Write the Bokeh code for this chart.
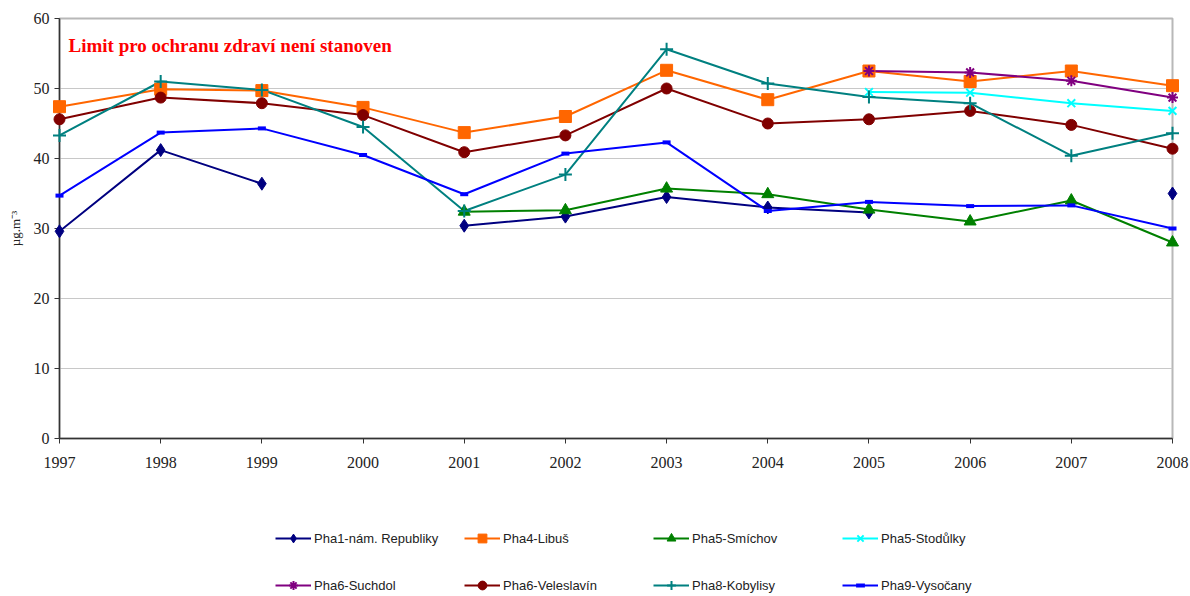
from bokeh.plotting import figure
from bokeh.layouts import column
from bokeh.models import Range1d, FixedTicker, Legend, LegendItem, Label
from bokeh.embed import file_html
from bokeh.resources import INLINE

nan = float("nan")

years = [1997, 1998, 1999, 2000, 2001, 2002, 2003, 2004, 2005, 2006, 2007, 2008]
y_ticks = [0, 10, 20, 30, 40, 50, 60]

pha1_nam_republiky = [29.6, 41.2, 36.4, nan, 30.4, 31.7, 34.5, 33.0, 32.3, nan, nan, 35.0]
pha4_libus = [47.4, 49.9, 49.7, 47.3, 43.7, 46.0, 52.6, 48.4, 52.5, 51.0, 52.5, 50.4]
pha5_smichov = [nan, nan, nan, nan, 32.4, 32.6, 35.7, 34.9, 32.7, 31.0, 34.0, 28.0]
pha5_stodulky = [nan, nan, nan, nan, nan, nan, nan, nan, 49.5, 49.4, 47.9, 46.8]
pha6_suchdol = [nan, nan, nan, nan, nan, nan, nan, nan, 52.5, 52.3, 51.1, 48.7]
pha6_veleslavin = [45.6, 48.7, 47.9, 46.2, 40.9, 43.3, 50.0, 45.0, 45.6, 46.8, 44.8, 41.4]
pha8_kobylisy = [43.3, 51.0, 49.8, 44.5, 32.5, 37.7, 55.6, 50.7, 48.8, 47.9, 40.4, 43.6]
pha9_vysocany = [34.7, 43.7, 44.3, 40.5, 34.9, 40.7, 42.3, 32.5, 33.8, 33.2, 33.3, 30.0]

series_names = ["Pha1-nám. Republiky", "Pha4-Libuš", "Pha5-Smíchov", "Pha5-Stodůlky",
                "Pha6-Suchdol", "Pha6-Veleslavín", "Pha8-Kobylisy", "Pha9-Vysočany"]
series_values = [pha1_nam_republiky, pha4_libus, pha5_smichov, pha5_stodulky,
                 pha6_suchdol, pha6_veleslavin, pha8_kobylisy, pha9_vysocany]

title_text = "Limit pro ochranu zdraví není stanoven"
y_label = "µg.m⁻³"

# styles
colors = ["#000080", "#FF6600", "#008000", "#00FFFF", "#800080", "#800000", "#008080", "#0000FF"]
markers = ["diamond", "square", "triangle", "x", "asterisk", "circle", "cross", "dash"]
msizes = [13, 12, 12, 11, 11, 11, 13, 8]
mline = [1, 1, 1, 2, 2, 1, 2, 4]

p = figure(width=1190, height=480, output_backend="svg", toolbar_location=None,
           x_range=Range1d(1997, 2008), y_range=Range1d(0, 60),
           min_border_left=59, min_border_right=18, min_border_top=18, min_border_bottom=42)
p.background_fill_color = "white"
p.border_fill_color = "white"
p.outline_line_color = "#b8b8b8"
p.outline_line_width = 2

p.xgrid.visible = False
p.ygrid.grid_line_color = "#c8c8c8"
p.ygrid.grid_line_width = 1
p.ygrid.ticker = FixedTicker(ticks=y_ticks)

p.xaxis.ticker = FixedTicker(ticks=years)
p.yaxis.ticker = FixedTicker(ticks=y_ticks)
for ax in (p.xaxis[0], p.yaxis[0]):
    ax.axis_line_color = "#333333"
    ax.axis_line_width = 1.5
    ax.major_tick_line_color = "#333333"
    ax.major_tick_out = 5
    ax.major_tick_in = 0
    ax.minor_tick_out = 0
    ax.minor_tick_in = 0
    ax.major_label_text_font = "Liberation Serif"
    ax.major_label_text_font_size = "16px"
    ax.major_label_text_color = "#222222"
p.xaxis.major_label_standoff = 13
p.yaxis.major_label_standoff = 5
p.yaxis.axis_label = y_label
p.yaxis.axis_label_text_font = "Liberation Serif"
p.yaxis.axis_label_text_font_size = "13px"
p.yaxis.axis_label_text_font_style = "normal"
p.yaxis.axis_label_text_color = "#222222"
p.yaxis.axis_label_standoff = 8

for vals, c, m, s, lw in zip(series_values, colors, markers, msizes, mline):
    p.line(years, vals, line_color=c, line_width=2)
    p.scatter(years, vals, marker=m, size=s, fill_color=c, line_color=c, line_width=lw,
              level="overlay")

p.add_layout(Label(x=9, y=393, x_units="screen", y_units="screen", text=title_text,
                   text_font="Liberation Serif", text_font_size="19px", text_font_style="bold",
                   text_color="#FF0000", text_baseline="alphabetic"))

# legend panel (separate figure below the chart; its renderers fall outside its view)
pl = figure(width=1190, height=116, output_backend="svg", toolbar_location=None,
            x_range=Range1d(0, 1), y_range=Range1d(0, 1),
            x_axis_location=None, y_axis_location=None,
            min_border_left=0, min_border_right=0, min_border_top=0, min_border_bottom=0)
pl.outline_line_color = None
pl.grid.visible = False
pl.background_fill_color = "white"
pl.border_fill_color = "white"

items = []
for name, vals, c, m, s, lw in zip(series_names, series_values, colors, markers, msizes, mline):
    lr = pl.line(years, vals, line_color=c, line_width=2)
    sr = pl.scatter(years, vals, marker=m, size=s, fill_color=c, line_color=c, line_width=lw)
    items.append(LegendItem(label=name, renderers=[lr, sr]))

legend = Legend(items=items, location=(216, 0), ncols=4, orientation="horizontal",
                glyph_width=36, glyph_height=22, label_height=22, label_width=125,
                label_standoff=3, spacing=25, padding=0, margin=0,
                border_line_color=None, background_fill_alpha=0,
                label_text_font="Liberation Sans", label_text_font_size="13px",
                label_text_color="#222222")
pl.add_layout(legend, "center")

layout = column(p, pl, spacing=0)
open("out.html", "w").write(file_html(layout, INLINE))
